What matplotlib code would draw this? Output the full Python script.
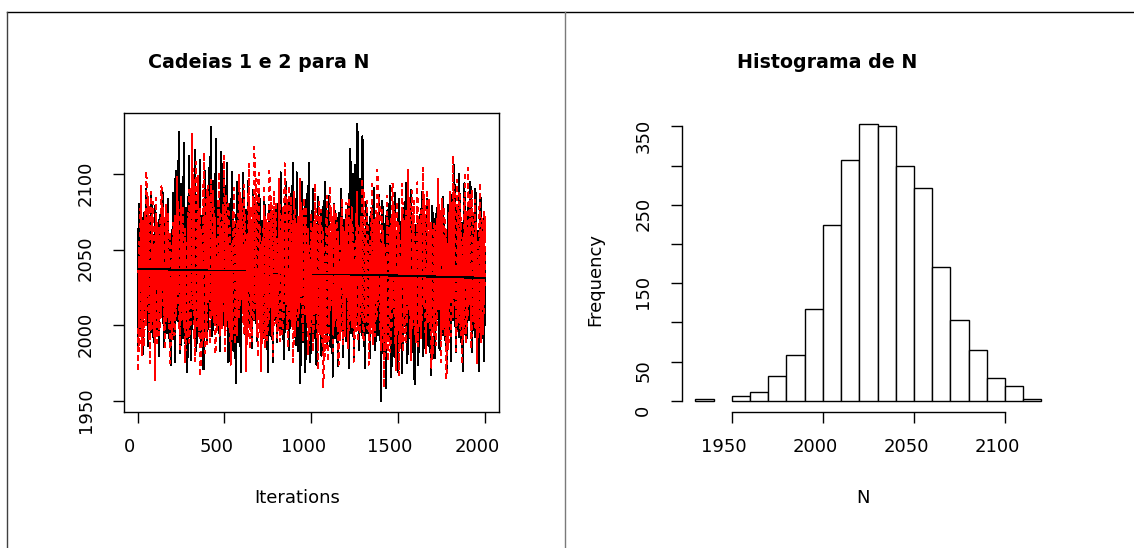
import numpy as np
import matplotlib
matplotlib.use("Agg")
import matplotlib.pyplot as plt
from matplotlib.lines import Line2D
from matplotlib.transforms import ScaledTranslation

# ------------------------------------------------------------------
# Data
# ------------------------------------------------------------------
# Histogram of N: bin edges and bar heights
hist_edges = [1930, 1940, 1950, 1960, 1970, 1980, 1990, 2000, 2010, 2020,
              2030, 2040, 2050, 2060, 2070, 2080, 2090, 2100, 2110, 2120]
hist_counts = [3, 0, 6, 11, 32, 59, 117, 224, 307, 353,
               351, 300, 272, 171, 103, 65, 29, 19, 3]

# Trace plot: 2000 iterations per chain, read as the highest / lowest
# value reached inside each block of 100 iterations
n_iter = 2000
block_size = 100
chain1_block_max = [2090, 2088, 2128, 2116, 2131, 2107, 2101, 2089, 2107, 2107,
                    2095, 2090, 2133, 2091, 2092, 2094, 2088, 2089, 2106, 2095]
chain1_block_min = [1975, 1974, 1969, 1971, 1983, 1962, 1985, 1969, 1978, 1962,
                    1974, 1966, 1972, 1972, 1950, 1961, 1967, 1972, 1970, 1970]
chain2_block_max = [2102, 2092, 2098, 2127, 2112, 2100, 2118, 2102, 2107, 2097,
                    2094, 2092, 2097, 2103, 2094, 2103, 2104, 2097, 2112, 2104]
chain2_block_min = [1964, 1975, 1975, 1966, 1981, 1974, 1969, 1970, 1976, 1981,
                    1959, 1974, 1976, 1974, 1959, 1967, 1972, 1965, 1974, 1975]

trace_xticks = [0, 500, 1000, 1500, 2000]
trace_yticks = [1950, 2000, 2050, 2100]
hist_xticks = [1950, 2000, 2050, 2100]
hist_yticks = [0, 50, 100, 150, 200, 250, 300, 350]
hist_yticklabels = ["0", "50", "", "150", "", "250", "", "350"]

title_left = "Cadeias 1 e 2 para N"
title_right = "Histograma de N"
xlabel_left = "Iterations"
xlabel_right = "N"
ylabel_right = "Frequency"

# ------------------------------------------------------------------
# Build the two chains: the within-block draws follow the histogram's
# quantiles, stretched so that each block reaches the extremes read above.
# ------------------------------------------------------------------
edges = np.array(hist_edges, float)
counts = np.array(hist_counts, float)
cdf = np.concatenate([[0.0], np.cumsum(counts)]) / counts.sum()
keep = np.concatenate([[True], np.diff(cdf) > 0])
cdf_u, edges_u = cdf[keep], edges[keep]
centre = float((counts * (edges[:-1] + 5)).sum() / counts.sum())

p_levels = (np.arange(block_size) + 0.5) / block_size
q_levels = np.interp(p_levels, cdf_u, edges_u)
q_hi, q_lo = q_levels.max(), q_levels.min()
GAMMA = 0.55


def build_chain(bmax, bmin, root, shift):
    out = []
    for b in range(len(bmax)):
        order = np.array([pow(root, k + shift * b + 1, 101) - 1
                          for k in range(block_size)])
        z = q_levels[order]
        up = z >= centre
        d = np.where(up, (z - centre) / (q_hi - centre),
                     (centre - z) / (centre - q_lo))
        d = d ** GAMMA
        v = np.where(up, centre + d * (bmax[b] - centre),
                     centre - d * (centre - bmin[b]))
        out.append(v)
    return np.concatenate(out)


iters = np.arange(1, n_iter + 1)
chain1 = build_chain(chain1_block_max, chain1_block_min, 3, 7)
chain2 = build_chain(chain2_block_max, chain2_block_min, 2, 13)

# ------------------------------------------------------------------
# Figure
# ------------------------------------------------------------------
plt.rcParams["font.family"] = ["DejaVu Sans"]
W, H = 1134, 548
fig = plt.figure(figsize=(W / 100, H / 100), dpi=100)
fig.patch.set_facecolor("white")


def px_axes(x0, x1, y0, y1):
    return fig.add_axes([x0 / W, 1 - y1 / H, (x1 - x0) / W, (y1 - y0) / H])


TICK_FS = 13
shift_x = ScaledTranslation(-8 / 100, 0, fig.dpi_scale_trans)
shift_y = ScaledTranslation(0, -9 / 100, fig.dpi_scale_trans)

# ---------------- left: trace plot ----------------
ax1 = px_axes(124, 498.7, 113, 412)
ax1.plot(iters, chain1, color="black", lw=0.75, antialiased=False)
ax1.plot(iters, chain2, color="red", lw=0.75, ls=(0, (4, 4)), antialiased=False)
for ch, col in ((chain1, "black"), (chain2, "red")):
    a, b = np.polyfit(iters, ch, 1)
    ax1.plot(iters, a * iters + b, color=col, lw=0.9, antialiased=False)

span = n_iter - 1
ax1.set_xlim(1 - 0.04 * span, n_iter + 0.04 * span)
ymin = min(chain1.min(), chain2.min())
ymax = max(chain1.max(), chain2.max())
yr = ymax - ymin
ax1.set_ylim(ymin - 0.04 * yr, ymax + 0.04 * yr)
ax1.set_xticks(trace_xticks)
ax1.set_yticks(trace_yticks)
ax1.set_xticklabels([str(t) for t in trace_xticks])
ax1.set_yticklabels([str(t) for t in trace_yticks])
for s in ax1.spines.values():
    s.set_linewidth(1.0)

# ---------------- right: histogram ----------------
ax2 = px_axes(681.5, 1055.3, 113, 412)
mask = counts > 0
ax2.bar(edges[:-1][mask], counts[mask], width=10, align="edge",
        color="white", edgecolor="black", linewidth=1.0)
xr = edges[-1] - edges[0]
ax2.set_xlim(edges[0] - 0.04 * xr, edges[-1] + 0.04 * xr)
ax2.set_ylim(-0.04 * counts.max(), 1.04 * counts.max())
ax2.set_xticks(hist_xticks)
ax2.set_xticklabels([str(t) for t in hist_xticks])
ax2.set_yticks(hist_yticks)
ax2.set_yticklabels(hist_yticklabels)
ax2.spines["top"].set_visible(False)
ax2.spines["right"].set_visible(False)
ax2.spines["left"].set_bounds(hist_yticks[0], hist_yticks[-1])
ax2.spines["bottom"].set_bounds(hist_xticks[0], hist_xticks[-1])
for s in ax2.spines.values():
    s.set_linewidth(1.0)

for ax in (ax1, ax2):
    ax.set_facecolor("white")
    ax.tick_params(axis="both", direction="out", length=8, width=1.0,
                   labelsize=TICK_FS, colors="black")
    ax.tick_params(axis="x", pad=11)
    ax.tick_params(axis="y", pad=13)
    for lab in ax.get_xticklabels():
        lab.set_transform(lab.get_transform() + shift_x)
    for lab in ax.get_yticklabels():
        lab.set_rotation(90)
        lab.set_va("center")
        lab.set_transform(lab.get_transform() + shift_y)

# ---------------- texts ----------------
def ftext(x, y, s, **kw):
    fig.text(x / W, 1 - y / H, s, ha="center", va="center", **kw)


ftext(259, 62, title_left, fontsize=13.7, fontweight="bold")
ftext(827.5, 62, title_right, fontsize=13.7, fontweight="bold")
ftext(297.5, 498, xlabel_left, fontsize=TICK_FS)
ftext(863, 498, xlabel_right, fontsize=TICK_FS)
ftext(595, 280, ylabel_right, fontsize=TICK_FS, rotation=90)

# ---------------- outer frame lines ----------------
def fline(xs, ys, **kw):
    fig.add_artist(Line2D([x / W for x in xs], [1 - y / H for y in ys],
                          transform=fig.transFigure, **kw))


fline([7, W], [11.5, 11.5], color="black", lw=1.0)
fline([7, 7], [11.5, H], color="#404040", lw=1.0)
fline([565, 565], [11.5, H], color="#7a7a7a", lw=1.0)

fig.savefig("out.png", dpi=100, facecolor="white")
